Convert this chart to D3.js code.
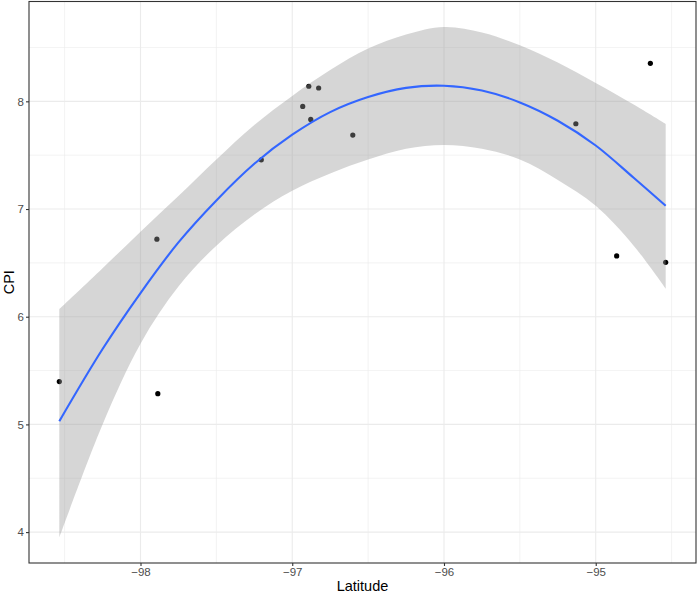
<!DOCTYPE html>
<html>
<head>
<meta charset="utf-8">
<script src="https://cdn.jsdelivr.net/npm/d3@7"></script>
<style>
  body { margin: 0; background: #fff; }
  svg { display: block; font-family: "Liberation Sans", Arial, sans-serif; }
</style>
</head>
<body>
<svg id="chart"></svg>
<script>
// observed points
const latitude = [-98.535, -97.886, -97.892, -97.204, -96.931, -96.891, -96.878, -96.826, -96.601, -95.131, -94.862, -94.640, -94.539];
const cpi      = [5.398, 5.285, 6.720, 7.457, 7.953, 8.140, 7.832, 8.124, 7.687, 7.792, 6.564, 8.353, 6.505];

// smoothed fit and confidence band
const fitX     = [-98.535, -98.25, -98.0, -97.75, -97.5, -97.25, -97.0, -96.75, -96.5, -96.25, -96.0, -95.75, -95.5, -95.25, -95.0, -94.75, -94.539];
const fitY     = [5.03, 5.70, 6.22, 6.69, 7.08, 7.42, 7.69, 7.90, 8.04, 8.125, 8.145, 8.10, 7.99, 7.82, 7.59, 7.29, 7.03];
const fitLower = [3.95, 5.00, 5.75, 6.28, 6.66, 6.95, 7.17, 7.33, 7.46, 7.56, 7.595, 7.56, 7.46, 7.27, 7.03, 6.66, 6.26];
const fitUpper = [6.07, 6.45, 6.79, 7.12, 7.46, 7.78, 8.05, 8.29, 8.49, 8.62, 8.69, 8.64, 8.52, 8.36, 8.17, 7.97, 7.79];

const xTicks = [-98, -97, -96, -95];
const yTicks = [4, 5, 6, 7, 8];
const xMinor = [-98.5, -97.5, -96.5, -95.5, -94.5];
const yMinor = [4.5, 5.5, 6.5, 7.5, 8.5];

const width = 698, height = 594;
const margin = { top: 1.5, right: 2, bottom: 31, left: 29 };

const svg = d3.select('#chart').attr('width', width).attr('height', height);

// ggplot-style 5% expansion
const xr = d3.extent(latitude.concat(fitX));
const yr = d3.extent(cpi.concat(fitLower, fitUpper));
const xPad = (xr[1] - xr[0]) * 0.05, yPad = (yr[1] - yr[0]) * 0.05;

const x = d3.scaleLinear().domain([xr[0] - xPad, xr[1] + xPad]).range([margin.left, width - margin.right]);
const y = d3.scaleLinear().domain([yr[0] - yPad, yr[1] + yPad]).range([height - margin.bottom, margin.top]);

const panel = svg.append('g');

// grid
panel.selectAll('.xminor').data(xMinor).enter().append('line')
    .attr('x1', d => x(d)).attr('x2', d => x(d))
    .attr('y1', y.range()[0]).attr('y2', y.range()[1])
    .attr('stroke', '#ebebeb').attr('stroke-width', 0.6);
panel.selectAll('.yminor').data(yMinor).enter().append('line')
    .attr('x1', x.range()[0]).attr('x2', x.range()[1])
    .attr('y1', d => y(d)).attr('y2', d => y(d))
    .attr('stroke', '#ebebeb').attr('stroke-width', 0.6);
panel.selectAll('.xmajor').data(xTicks).enter().append('line')
    .attr('x1', d => x(d)).attr('x2', d => x(d))
    .attr('y1', y.range()[0]).attr('y2', y.range()[1])
    .attr('stroke', '#ebebeb').attr('stroke-width', 1.1);
panel.selectAll('.ymajor').data(yTicks).enter().append('line')
    .attr('x1', x.range()[0]).attr('x2', x.range()[1])
    .attr('y1', d => y(d)).attr('y2', d => y(d))
    .attr('stroke', '#ebebeb').attr('stroke-width', 1.1);

// points (drawn under the ribbon, as in the original)
panel.selectAll('.pt').data(latitude).enter().append('circle')
    .attr('cx', d => x(d))
    .attr('cy', (d, i) => y(cpi[i]))
    .attr('r', 2.6)
    .attr('fill', '#000');

const band = fitX.map((d, i) => ({ x: d, lo: fitLower[i], hi: fitUpper[i], fit: fitY[i] }));

panel.append('path')
    .datum(band)
    .attr('fill', '#999999')
    .attr('fill-opacity', 0.4)
    .attr('d', d3.area()
        .x(d => x(d.x))
        .y0(d => y(d.lo))
        .y1(d => y(d.hi))
        .curve(d3.curveCatmullRom));

panel.append('path')
    .datum(band)
    .attr('fill', 'none')
    .attr('stroke', '#3366FF')
    .attr('stroke-width', 2.1)
    .attr('d', d3.line()
        .x(d => x(d.x))
        .y(d => y(d.fit))
        .curve(d3.curveCatmullRom));

// panel border
svg.append('rect')
    .attr('x', x.range()[0]).attr('y', y.range()[1])
    .attr('width', x.range()[1] - x.range()[0])
    .attr('height', y.range()[0] - y.range()[1])
    .attr('fill', 'none').attr('stroke', '#333333').attr('stroke-width', 1.1);

// axes
const xAxis = svg.append('g')
    .attr('transform', `translate(0, ${y.range()[0]})`)
    .call(d3.axisBottom(x).tickValues(xTicks).tickSize(3).tickPadding(2).tickFormat(d3.format('d')));
const yAxis = svg.append('g')
    .attr('transform', `translate(${x.range()[0]}, 0)`)
    .call(d3.axisLeft(y).tickValues(yTicks).tickSize(3).tickPadding(2).tickFormat(d3.format('d')));

[xAxis, yAxis].forEach(a => {
    a.select('.domain').remove();
    a.selectAll('line').attr('stroke', '#333333').attr('stroke-width', 1.1);
    a.selectAll('text')
        .attr('fill', '#4d4d4d')
        .style('font-size', '11.5px')
        .style('font-family', '"Liberation Sans", Arial, sans-serif');
});

svg.append('text')
    .attr('x', (x.range()[0] + x.range()[1]) / 2)
    .attr('y', height - 3)
    .attr('text-anchor', 'middle')
    .style('font-size', '14.5px')
    .attr('fill', '#000')
    .text('Latitude');

svg.append('text')
    .attr('transform', `translate(14, ${(y.range()[0] + y.range()[1]) / 2}) rotate(-90)`)
    .attr('text-anchor', 'middle')
    .style('font-size', '14.5px')
    .attr('fill', '#000')
    .text('CPI');
</script>
</body>
</html>
